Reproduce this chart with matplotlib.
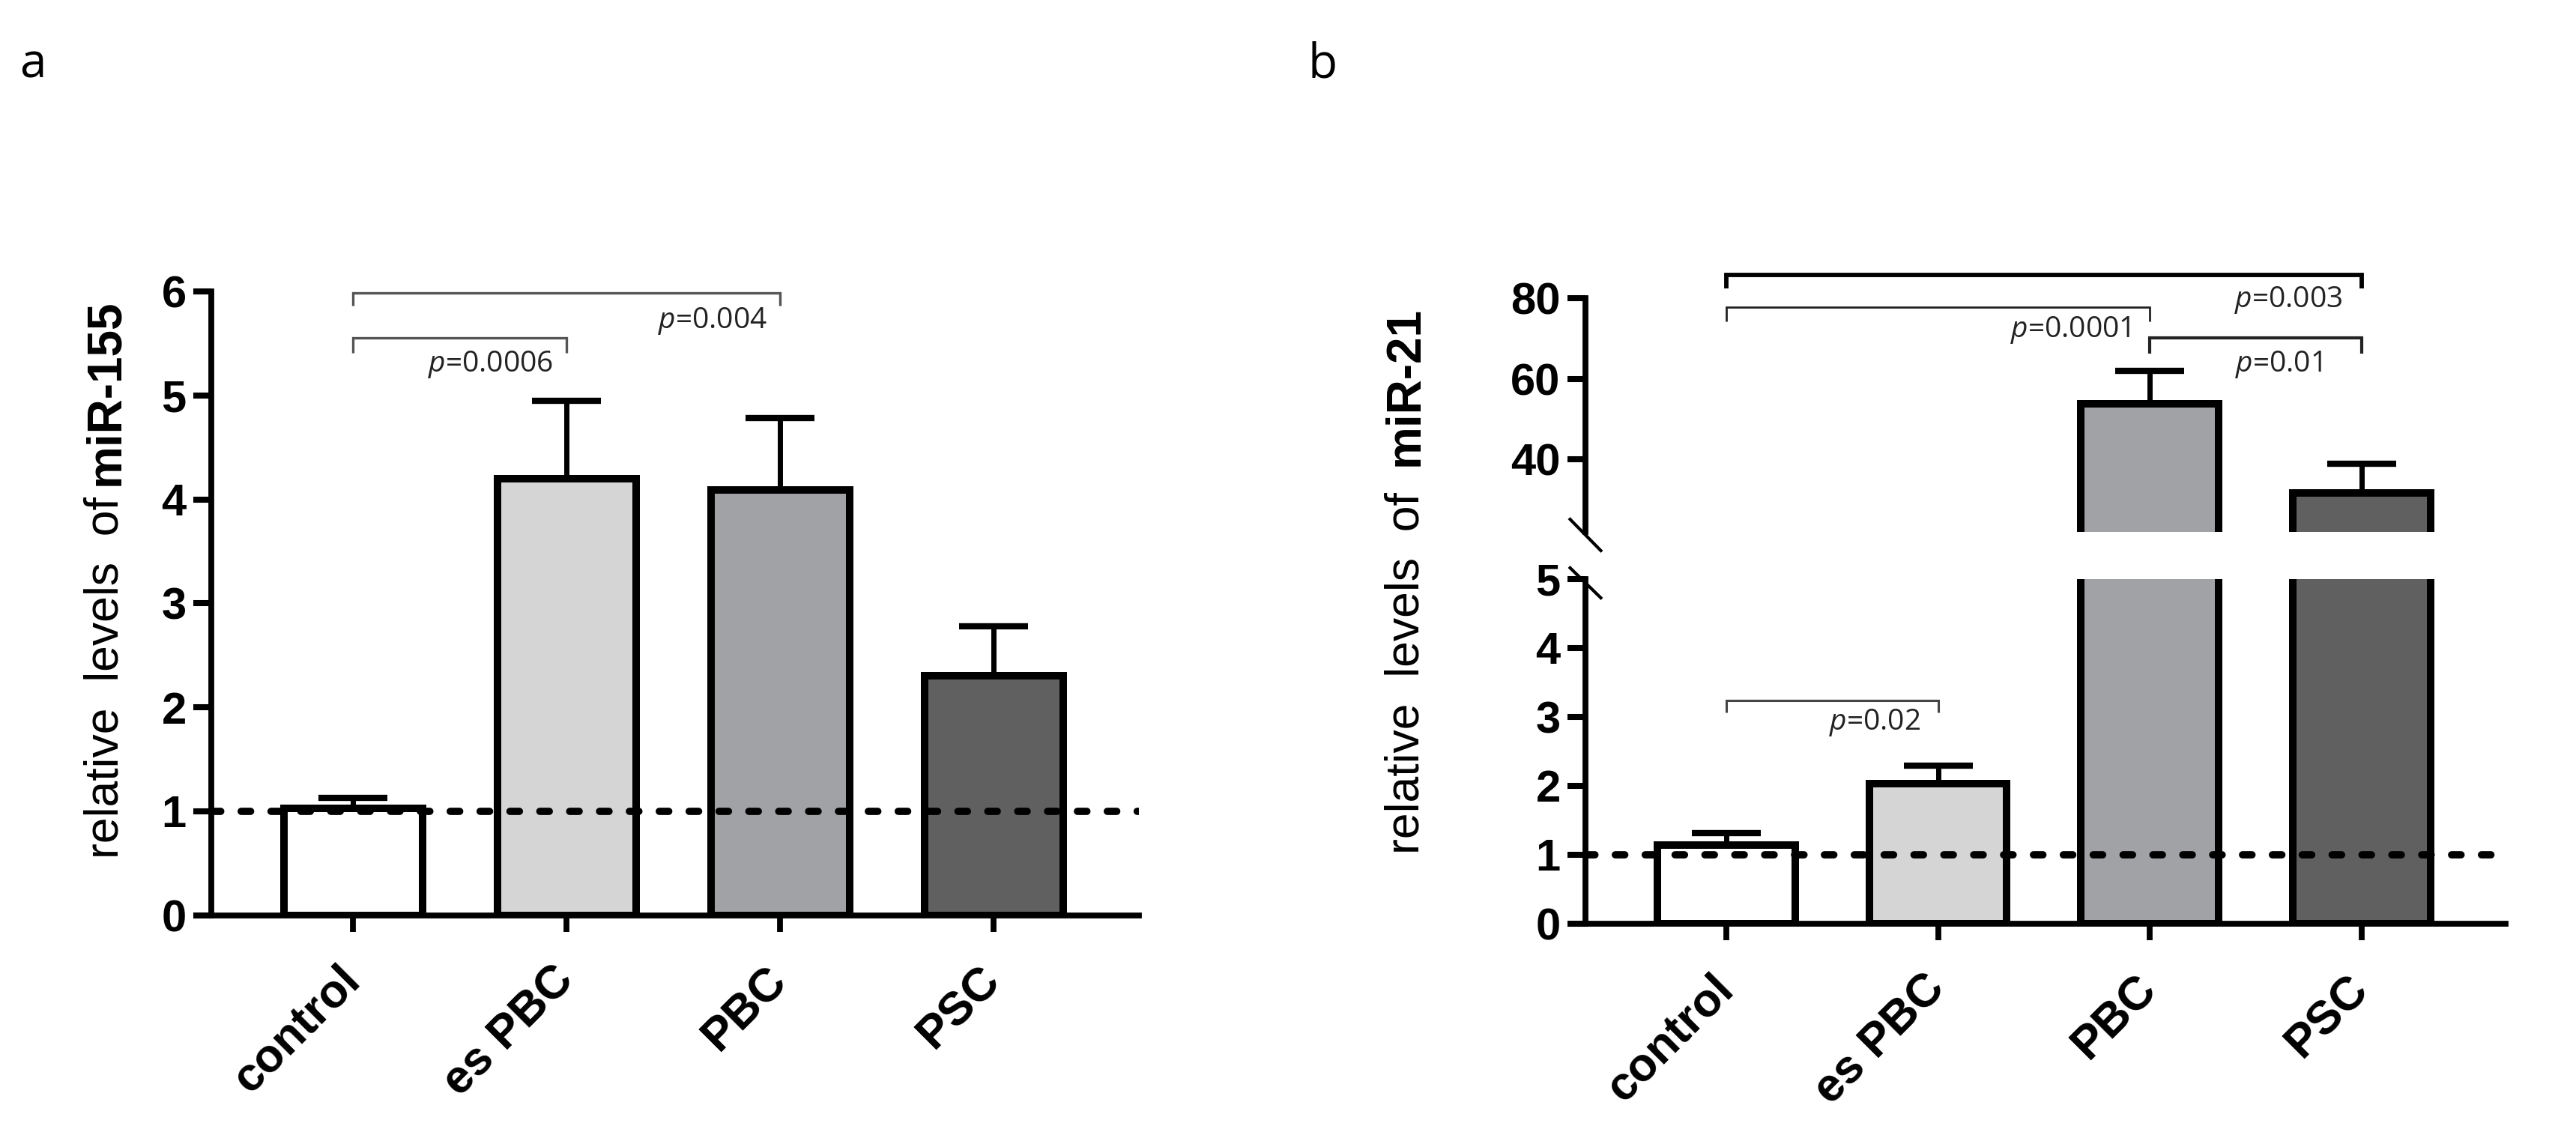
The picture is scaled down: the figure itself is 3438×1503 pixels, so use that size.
import matplotlib
matplotlib.use("Agg")
import matplotlib.pyplot as plt
import numpy as np

plt.rcParams["font.family"] = ["Liberation Sans", "DejaVu Sans"]
plt.rcParams["mathtext.fontset"] = "custom"
plt.rcParams["mathtext.it"] = "Open Sans:italic"
plt.rcParams["mathtext.rm"] = "Open Sans"

W, H = 3438, 1503

# data
groups = ["control", "es PBC", "PBC", "PSC"]
colors = ["white", "#d5d5d5", "#a1a2a6", "#606060"]
mir155_mean = [1.03, 4.20, 4.09, 2.30]
mir155_err = [0.10, 0.75, 0.69, 0.48]
mir21_mean = [1.14, 2.03, 53.8, 31.6]
mir21_err = [0.17, 0.26, 8.2, 7.3]

# brackets: (from, to, line y, tick end y, label, label right x, label baseline y)
br_155 = [(0, 2, 5.985, 5.86, "0.004", 1.94, 5.65),
          (0, 1, 5.55, 5.41, "0.0006", 0.934, 5.23)]
br_21_top = [(0, 3, 85.8, 82.4, "0.003", 2.91, 77.8),
             (0, 2, 77.8, 74.2, "0.0001", 1.908, 70.3),
             (2, 3, 70.1, 66.2, "0.01", 2.813, 61.8)]
br_21_low = [(0, 1, 3.24, 3.07, "0.02", 0.918, 2.815)]

EDGE = 7.2
SPINE = 5.6


def box(left, top, right, bottom):
    return [left / W, 1 - bottom / H, (right - left) / W, (bottom - top) / H]


def style(ax, bottom=True):
    for s in ["top", "right"]:
        ax.spines[s].set_visible(False)
    ax.spines["left"].set_linewidth(SPINE)
    ax.spines["bottom"].set_linewidth(SPINE)
    ax.spines["bottom"].set_visible(bottom)
    ax.tick_params(axis="y", length=17, width=5.8, pad=7, labelsize=43)
    ax.tick_params(axis="x", length=16, width=5.6, pad=40)
    if not bottom:
        ax.tick_params(axis="x", bottom=False, labelbottom=False)
    ax.set_xlim(-0.665, 3.68)


def bars(ax, means, errs):
    x = np.arange(len(groups))
    ax.bar(x, means, width=0.65, color=colors, edgecolor="black", linewidth=EDGE, zorder=2)
    ax.errorbar(x, means, yerr=[np.zeros(len(errs)), errs], fmt="none", ecolor="black",
                elinewidth=5, capsize=33, capthick=6, zorder=3)


def brackets(ax, items, lw, color):
    for k, (i, j, y, y2, lab, tx, ty) in enumerate(items):
        ax.plot([i, i, j, j], [y2, y, y, y2], color=color[k], lw=lw[k], clip_on=False,
                solid_capstyle="butt", solid_joinstyle="miter", zorder=5)
        ax.text(tx, ty, "$p$=" + lab, ha="right", va="baseline", fontsize=28,
                family=["Open Sans"], color="#222222", clip_on=False)


def xlabels(ax):
    ax.set_xticks(np.arange(len(groups)))
    ax.set_xticklabels(groups, rotation=45, ha="right", va="center", rotation_mode="anchor",
                       fontsize=45, fontweight="bold")


def bold_y(ax):
    for lbl in ax.get_yticklabels():
        lbl.set_fontweight("bold")


fig = plt.figure(figsize=(W / 100, H / 100), dpi=100)

# panel a
ax = fig.add_axes(box(282, 389, 1520, 1221.5))
style(ax)
bars(ax, mir155_mean, mir155_err)
ax.axhline(1, color="black", lw=7, linestyle=(0, (1.3, 2.8)), dash_capstyle="round", zorder=4)
ax.set_ylim(0, 6)
ax.set_yticks(range(0, 7))
bold_y(ax)
xlabels(ax)
brackets(ax, br_155, [2.4, 2.4], ["#555555", "#555555"])

# panel b, lower part
axl = fig.add_axes(box(2116, 773, 3344, 1233))
style(axl)
bars(axl, mir21_mean, mir21_err)
axl.axhline(1, color="black", lw=7, linestyle=(0, (1.3, 2.8)), dash_capstyle="round", zorder=4)
axl.set_ylim(0, 5)
axl.set_yticks(range(0, 6))
bold_y(axl)
xlabels(axl)
brackets(axl, br_21_low, [2.2], ["#444444"])

# panel b, upper part
axu = fig.add_axes(box(2116, 398, 3344, 710))
style(axu, bottom=False)
bars(axu, mir21_mean, mir21_err)
axu.set_ylim(22, 80)
axu.set_yticks([40, 60, 80])
bold_y(axu)
brackets(axu, br_21_top, [4.2, 2.0, 3.0], ["black", "#222222", "#222222"])

# axis break marks
axl.plot([-0.0167, 0.0167], [1.0 - 0.0109 + 0.0435, 1.0 - 0.0109 - 0.0435], transform=axl.transAxes,
         color="black", lw=3, clip_on=False)
axu.plot([-0.0167, 0.0167], [-0.013 + 0.067, -0.013 - 0.067], transform=axu.transAxes,
         color="black", lw=3, clip_on=False)


def ylabel(x_base, reg_end, bold_start, name):
    fig.text(x_base / W, 1 - reg_end / H, "relative  levels  of", rotation=90, rotation_mode="anchor",
             ha="right", va="baseline", fontsize=45)
    fig.text(x_base / W, 1 - bold_start / H, name, rotation=90, rotation_mode="anchor",
             ha="left", va="baseline", fontsize=46, fontweight="bold")


ylabel(158, 663, 648, "miR-155")
ylabel(1893, 657, 622, "miR-21")

fig.text(26 / W, 1 - 103 / H, "a", fontsize=46, family=["Open Sans"], va="baseline")
fig.text(1745 / W, 1 - 103 / H, "b", fontsize=46, family=["Open Sans"], va="baseline")

fig.savefig("out.png", dpi=100, facecolor="white")
